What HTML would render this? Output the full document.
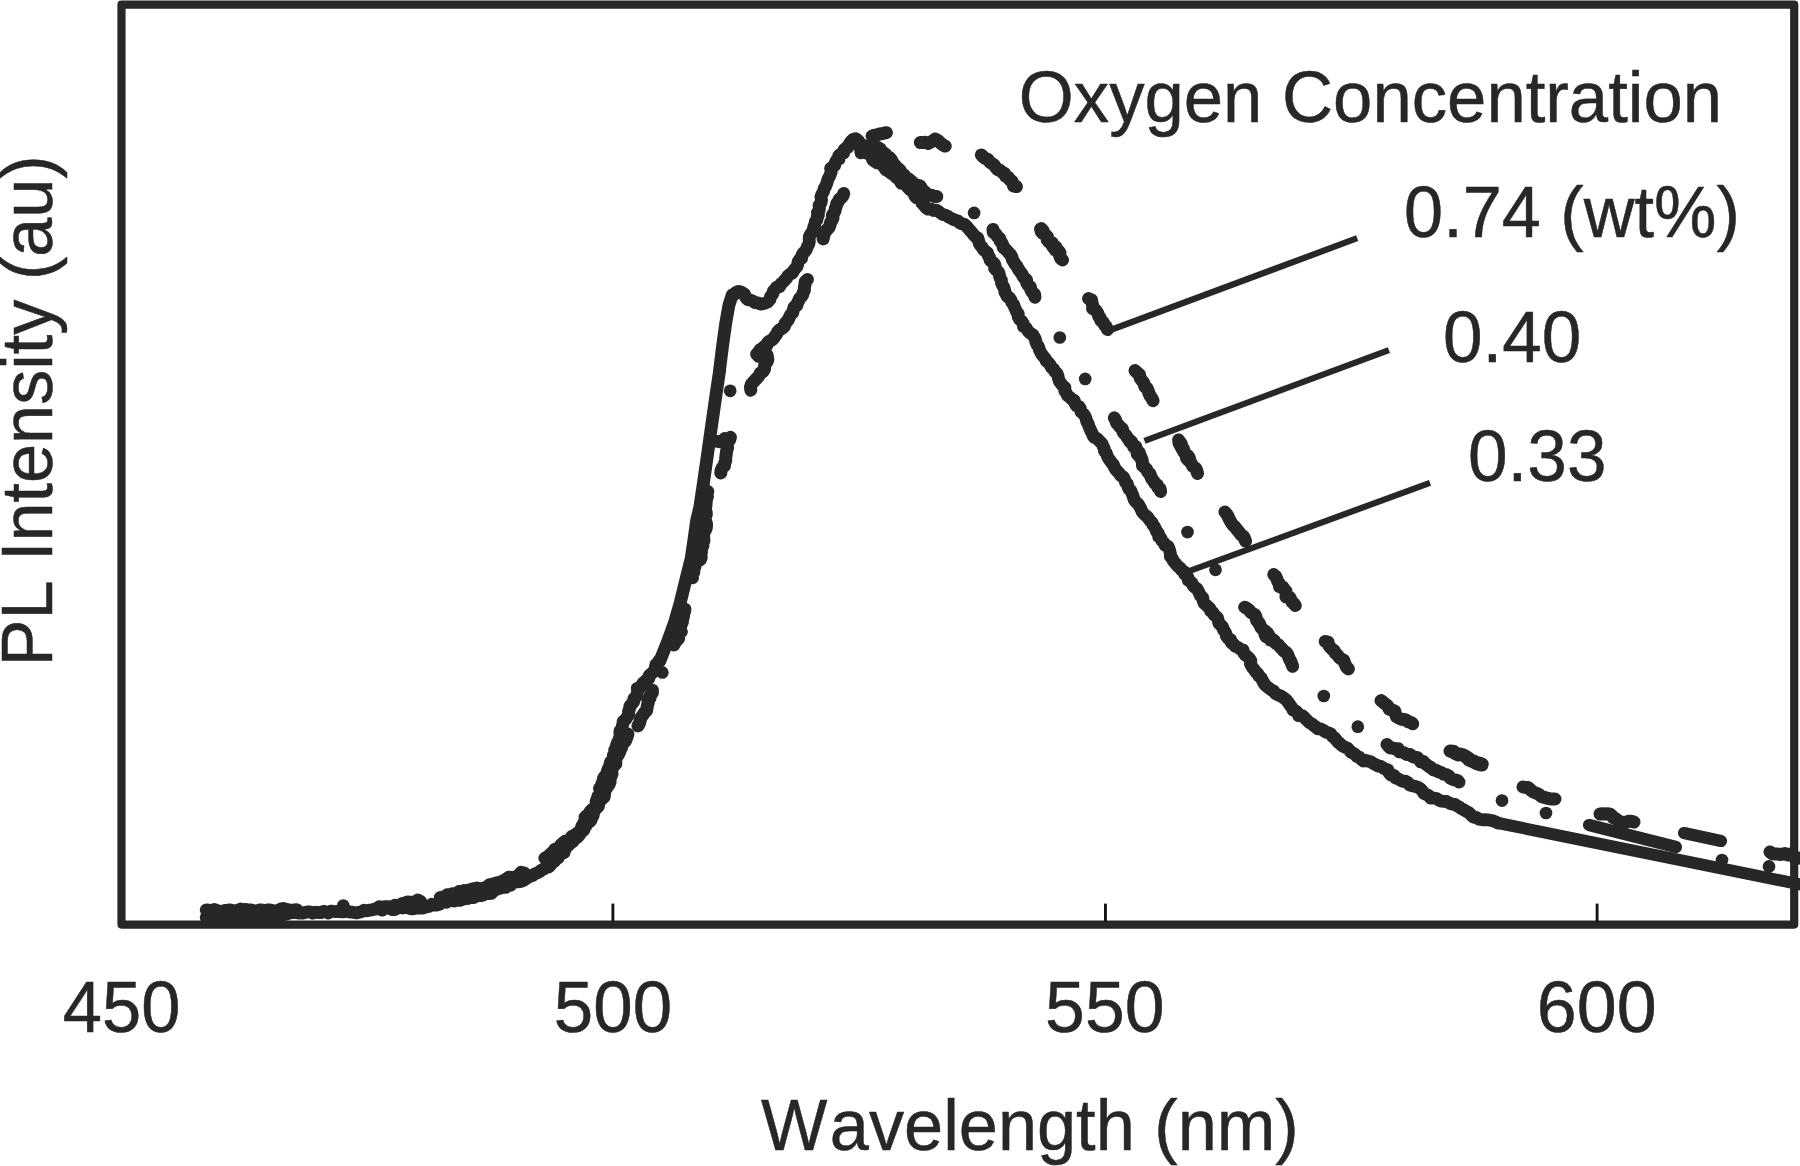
<!DOCTYPE html>
<html lang="en">
<head>
<meta charset="utf-8">
<title>PL Intensity vs Wavelength</title>
<style>
html,body{margin:0;padding:0;background:#fff;}
body{width:1800px;height:1166px;overflow:hidden;}
svg{display:block;}
</style>
</head>
<body>
<svg width="1800" height="1166" viewBox="0 0 1800 1166">
<rect x="0" y="0" width="1800" height="1166" fill="#ffffff"/>
<rect x="121.5" y="4.6" width="1672.7" height="920" fill="none" stroke="#272727" stroke-width="8.2" stroke-linejoin="round"/>
<line x1="612.90" y1="903.6" x2="612.90" y2="922" stroke="#141414" stroke-width="2.9"/>
<line x1="1105.45" y1="903.6" x2="1105.45" y2="922" stroke="#141414" stroke-width="2.9"/>
<line x1="1597.10" y1="903.6" x2="1597.10" y2="922" stroke="#141414" stroke-width="2.9"/>
<line x1="1110.5" y1="330.0" x2="1357.2" y2="238.2" stroke="#272727" stroke-width="6.2"/>
<line x1="1144.5" y1="440.8" x2="1388.9" y2="350.2" stroke="#272727" stroke-width="6.2"/>
<line x1="1186.3" y1="572.2" x2="1430.0" y2="482.8" stroke="#272727" stroke-width="6.2"/>
<g fill="none" stroke="#272727" stroke-linecap="round" stroke-linejoin="round">
<path d="M208.7 913.0 L211.3 912.8 L213.9 913.2 L216.5 912.9 L219.1 912.7 L221.7 912.2 L224.3 912.4 L226.9 913.5 L229.6 913.4 L232.2 913.8 L234.8 913.5 L237.4 913.4 L240.0 913.2 L242.6 911.9 L245.1 913.0 L247.6 913.3 L250.2 913.5 L252.8 912.0 L255.3 911.3 L257.9 911.6 L260.4 912.0 L262.9 912.8 L265.5 912.9 L268.0 913.4 L270.6 912.8 L273.1 913.2 L275.7 913.4 L278.2 912.8 L280.8 914.2 L283.3 914.0 L286.0 914.3 L288.7 913.2 L291.3 912.5 L294.0 912.5 L296.7 912.6 L299.3 913.2 L302.0 913.1 L304.7 912.6 L307.3 911.9 L310.0 911.9 L312.7 913.1 L315.3 912.2 L318.0 912.5 L320.7 912.7 L323.3 911.4 L325.9 911.9 L328.5 913.0 L331.0 911.1 L333.6 911.4 L336.1 911.6 L338.7 911.2 L341.3 911.9 L343.8 911.8 L346.4 910.7 L349.0 911.8 L351.6 912.1 L354.1 912.5 L356.7 912.9 L359.3 912.2 L361.8 911.6 L364.3 910.2 L366.9 910.8 L369.5 910.2 L372.0 909.9 L374.5 909.1 L377.1 908.8 L379.7 908.9 L382.3 910.1 L384.8 908.2 L387.3 907.6 L390.0 908.5 L392.5 909.7 L395.0 909.6 L397.5 907.8 L399.9 906.9 L402.4 908.0 L404.9 907.7 L407.3 907.2 L409.8 908.4 L412.3 908.9 L414.7 908.4 L417.2 908.2 L419.7 907.8 L422.3 908.2 L424.7 907.4 L427.1 906.8 L429.5 906.2 L431.7 904.3 L434.4 905.1 L436.9 905.0 L439.4 904.4 L441.5 902.1 L443.9 901.7 L446.6 902.3 L448.8 900.5 L451.3 900.5 L454.0 901.0 L456.2 899.4 L459.0 900.4 L461.4 899.9 L463.8 898.9 L466.2 898.5 L468.7 898.3 L471.1 897.5 L473.7 897.6 L476.0 896.1 L478.3 895.3 L481.0 895.7 L483.4 894.9 L485.7 893.6 L488.4 893.6 L491.1 893.4 L493.2 891.5 L495.3 889.6 L497.8 889.0 L500.4 888.2 L502.8 887.3 L505.7 887.4 L507.7 885.3 L510.5 885.4 L512.5 883.2 L514.9 882.1 L517.6 881.9 L520.4 881.7 L522.9 880.6 L525.3 879.2 L527.6 877.7 L530.0 876.4 L532.6 875.5 L534.8 873.9 L537.3 872.9 L539.7 871.6 L541.6 870.0 L544.0 868.9 L546.2 867.5 L548.9 866.9 L550.6 864.9 L552.3 862.7 L554.3 861.0 L556.0 859.2 L558.3 857.8 L559.5 855.5 L561.4 853.8 L564.0 852.7 L563.8 849.1 L565.4 847.1 L567.8 845.8 L569.8 843.9 L571.5 841.8 L572.7 839.3 L574.8 837.5 L576.4 835.3 L577.5 832.7 L580.6 831.6 L581.3 829.0 L581.7 826.5 L582.9 824.4 L584.0 822.2 L585.3 820.2 L585.0 817.2 L586.8 815.5 L589.3 814.2 L589.9 811.7 L591.5 809.9 L593.6 808.4 L595.2 806.6 L597.0 805.0 L596.1 801.4 L597.1 798.9 L597.9 796.3 L599.5 793.9 L600.9 791.6 L599.5 788.2 L601.9 786.2 L601.8 783.3 L603.6 781.2 L603.4 778.4 L604.9 776.2 L606.8 774.2 L607.2 771.6 L608.0 769.2 L609.3 767.0 L609.9 764.5 L610.5 762.0 L612.3 759.9 L613.3 757.6 L613.3 754.9 L615.5 752.9 L614.7 749.9 L616.2 747.7 L616.5 745.2 L617.4 742.8 L618.6 740.6 L619.3 738.3 L620.3 736.0 L619.8 733.2 L620.0 730.7 L622.0 728.7 L622.3 726.2 L622.8 723.8 L623.2 721.3 L625.8 719.3 L627.2 716.9 L628.8 714.6 L628.5 711.6 L629.5 709.0 L629.8 706.2 L631.7 704.0 L633.7 701.9 L633.7 698.9 L635.9 696.8 L637.1 694.3 L637.6 691.5 L637.3 688.3 L640.3 687.3 L641.7 685.3 L642.9 683.1 L644.9 681.6 L646.6 679.9 L648.9 678.6 L649.2 675.5 L651.3 673.8 L653.3 671.9 L654.9 669.8 L655.4 667.0 L656.0 664.3 L658.1 662.5 L659.3 660.2 L659.7 661.4 L667.9 640.8 L674.8 621.6 L680.3 602.4 L685.7 580.4 L691.2 558.4 L694.0 539.2 L696.7 520.0 L699.8 507.3 L703.9 479.8 L707.8 452.4 L711.7 424.9 L715.6 397.5 L719.7 370.0 L719.3 372.2 L722.5 346.5 L725.7 323.3 L728.9 305.3 L732.2 295.0 L734.4 294.5 L735.5 292.7 L738.4 291.3 L741.3 292.2 L744.5 294.0 L745.6 297.2 L747.5 299.6 L750.3 300.0 L752.8 301.1 L755.1 302.6 L757.8 302.8 L760.3 304.0 L763.0 303.8 L765.5 302.9 L767.7 302.0 L770.0 299.5 L770.6 296.3 L772.6 294.2 L773.3 291.2 L775.1 289.3 L776.6 287.1 L779.7 286.6 L780.9 283.9 L783.1 282.0 L785.0 279.9 L786.7 278.0 L788.0 275.8 L790.0 274.1 L792.6 272.9 L793.7 270.5 L795.3 268.5 L797.0 266.6 L797.7 264.3 L798.1 261.7 L799.4 259.7 L801.7 258.3 L801.8 255.6 L802.9 253.3 L805.1 251.4 L806.5 249.2 L807.3 246.6 L808.7 244.4 L809.3 241.8 L809.2 239.1 L809.4 236.4 L810.6 234.1 L812.6 232.1 L813.2 229.5 L813.8 227.0 L814.8 224.5 L815.3 221.9 L817.0 219.8 L817.0 217.4 L818.4 215.2 L817.4 212.6 L819.1 210.4 L819.4 208.0 L819.0 205.4 L821.0 202.8 L821.6 200.0 L820.9 196.8 L822.0 194.0 L823.6 191.4 L824.2 188.5 L825.6 186.4 L826.5 184.2 L827.2 181.9 L828.1 178.9 L829.7 176.1 L830.5 173.9 L831.3 171.5 L830.6 168.4 L832.8 166.9 L834.7 165.4 L835.2 163.0 L836.3 160.5 L839.0 159.0 L838.7 155.7 L840.8 154.0 L843.6 153.0 L843.7 150.1 L845.6 148.5 L847.9 147.3 L848.8 144.8 L850.1 142.7 L851.5 140.8 L853.1 139.3 L855.6 138.6 L857.3 139.9 L858.9 141.3 L860.0 143.1 L861.3 145.2 L862.9 147.2 L864.2 148.9 L865.0 151.3 L866.6 153.0 L869.3 154.4 L871.7 156.1 L872.5 159.7 L874.8 161.5 L877.2 162.9 L880.9 162.6 L882.5 165.3 L884.4 167.3 L885.5 169.6 L887.6 170.8 L889.7 171.9 L891.4 173.5 L894.2 173.8 L895.2 176.3 L896.9 177.9 L899.1 178.9 L900.1 181.3 L901.4 183.5 L904.5 183.8 L906.5 185.4 L908.0 187.6 L909.7 189.4 L911.8 191.0 L914.1 192.4 L914.6 195.5 L916.2 197.6 L919.1 198.6 L921.5 200.0 L922.0 203.2 L924.1 205.3 L925.9 207.7 L928.3 209.2 L931.4 209.2 L933.6 210.5 L936.5 210.2 L938.6 211.5 L940.6 213.0 L942.6 214.5 L945.1 215.0 L947.3 216.0 L949.3 217.4 L951.3 218.4 L953.4 219.5 L955.6 220.1 L957.9 221.0 L959.8 222.8 L962.0 223.8 L964.6 224.5 L966.5 226.2 L968.0 228.1 L969.6 229.9 L971.2 231.8 L972.7 233.5 L974.1 235.3 L975.7 236.9 L977.9 238.0 L978.6 240.7 L979.2 243.3 L980.5 245.4 L982.2 247.3 L983.3 249.5 L985.4 251.2 L987.5 252.8 L988.1 255.4 L989.6 257.4 L990.0 260.1 L992.0 261.8 L994.2 263.4 L995.1 265.4 L994.6 268.3 L996.1 270.0 L998.1 271.6 L999.2 273.6 L999.5 276.1 L1000.3 278.4 L1001.5 280.4 L1001.5 282.9 L1002.4 285.1 L1003.8 287.1 L1004.5 289.4 L1004.9 292.1 L1006.1 294.2 L1007.2 296.5 L1009.6 298.0 L1011.0 300.1 L1011.8 302.4 L1013.6 304.3 L1014.3 306.7 L1015.4 309.1 L1016.5 311.6 L1018.3 313.8 L1018.2 316.9 L1019.5 319.3 L1021.7 321.3 L1023.2 323.6 L1023.5 326.5 L1026.0 327.7 L1027.3 329.8 L1028.6 331.8 L1030.6 333.4 L1032.9 334.7 L1034.1 336.9 L1035.3 339.0 L1035.8 341.8 L1036.9 344.4 L1038.5 346.8 L1039.3 349.5 L1040.5 352.1 L1041.9 354.5 L1043.6 356.7 L1045.3 358.7 L1046.4 361.2 L1048.7 362.9 L1050.2 365.0 L1051.4 367.4 L1053.6 369.1 L1054.8 371.6 L1057.0 373.4 L1058.0 376.0 L1058.5 378.8 L1059.5 381.4 L1061.1 383.6 L1062.7 385.7 L1064.9 387.5 L1064.8 390.8 L1066.3 393.0 L1067.4 395.5 L1069.9 397.2 L1071.6 399.1 L1074.2 400.3 L1075.0 403.2 L1076.2 405.6 L1079.1 406.5 L1080.5 408.9 L1081.0 411.9 L1083.4 413.9 L1085.1 416.2 L1086.1 418.9 L1086.8 421.6 L1088.3 424.1 L1088.9 426.3 L1089.9 428.6 L1090.9 430.9 L1092.1 433.1 L1093.0 435.5 L1094.3 437.5 L1097.2 438.5 L1098.8 440.4 L1100.6 442.1 L1102.2 444.0 L1103.1 446.3 L1104.3 448.5 L1104.4 451.0 L1106.2 452.9 L1107.0 455.1 L1107.7 457.0 L1109.0 459.1 L1110.5 461.1 L1111.8 463.1 L1113.6 464.9 L1114.4 467.3 L1115.7 469.4 L1117.4 471.4 L1119.3 473.3 L1120.7 475.6 L1123.4 477.0 L1124.6 479.4 L1125.4 482.0 L1127.4 483.9 L1127.9 486.6 L1128.9 489.0 L1130.9 490.7 L1131.8 493.1 L1132.9 495.4 L1133.6 497.9 L1134.5 500.3 L1136.2 502.3 L1138.3 504.2 L1139.6 506.5 L1140.9 508.7 L1141.9 511.3 L1143.4 513.5 L1145.5 515.3 L1147.5 516.8 L1148.7 518.9 L1150.3 520.8 L1152.0 522.6 L1153.0 524.9 L1154.5 526.9 L1155.6 529.1 L1156.7 531.6 L1158.5 533.5 L1158.6 536.7 L1161.0 538.3 L1162.0 540.8 L1163.9 542.7 L1164.9 545.2 L1168.0 546.3 L1169.1 548.5 L1169.7 551.1 L1170.4 553.6 L1170.3 556.5 L1172.2 558.4 L1173.2 560.7 L1174.9 562.7 L1176.4 564.7 L1178.1 566.4 L1180.1 568.0 L1181.5 570.0 L1183.8 571.3 L1184.4 573.9 L1186.7 575.2 L1187.9 577.4 L1188.2 580.3 L1190.4 581.6 L1192.2 583.4 L1193.1 585.7 L1195.0 587.4 L1197.1 588.8 L1198.3 591.0 L1199.4 593.4 L1200.6 595.9 L1202.8 597.7 L1203.1 600.7 L1204.1 603.3 L1206.3 605.1 L1208.0 606.9 L1209.9 608.5 L1210.6 611.1 L1212.9 612.5 L1213.9 614.7 L1215.9 616.3 L1217.7 618.1 L1218.3 620.7 L1218.9 623.2 L1220.7 625.0 L1222.6 626.8 L1223.2 629.3 L1224.7 631.3 L1225.9 633.5 L1226.4 636.1 L1228.1 638.3 L1230.7 639.7 L1231.3 642.7 L1233.7 644.2 L1235.3 646.3 L1238.1 647.4 L1240.2 649.1 L1243.0 649.9 L1243.8 653.1 L1245.5 655.3 L1247.6 656.6 L1249.5 658.6 L1250.9 660.9 L1250.4 663.9 L1251.7 666.2 L1253.0 668.2 L1254.6 670.1 L1255.9 672.2 L1257.9 673.8 L1258.9 676.1 L1261.0 677.6 L1262.2 680.0 L1263.5 682.4 L1264.9 684.7 L1266.9 686.5 L1269.1 688.2 L1271.1 689.8 L1273.6 691.0 L1275.4 693.5 L1277.7 694.9 L1280.4 695.8 L1282.5 697.1 L1284.5 698.5 L1286.4 700.0 L1287.9 701.9 L1289.3 704.0 L1290.7 706.0 L1292.2 707.9 L1293.1 710.4 L1295.9 711.1 L1297.7 712.7 L1298.7 715.7 L1302.2 715.7 L1304.3 717.3 L1306.1 719.4 L1308.0 721.2 L1309.9 722.9 L1312.1 724.0 L1313.9 725.7 L1316.0 727.0 L1317.7 728.8 L1320.7 728.9 L1323.1 730.1 L1325.4 731.9 L1328.2 732.8 L1330.9 733.9 L1332.5 736.6 L1334.8 738.0 L1336.4 740.2 L1338.2 742.3 L1340.3 743.9 L1342.3 745.7 L1344.6 747.1 L1347.4 748.0 L1349.2 750.0 L1350.9 752.2 L1353.2 753.2 L1355.2 754.6 L1356.9 756.5 L1359.4 757.2 L1361.1 759.2 L1363.2 761.0 L1366.0 760.5 L1368.4 761.2 L1370.8 761.7 L1372.9 763.4 L1375.3 764.4 L1377.6 765.9 L1380.5 766.4 L1382.9 767.8 L1385.3 769.2 L1388.1 770.0 L1389.1 773.0 L1390.9 775.0 L1394.0 775.4 L1395.5 777.9 L1398.0 778.8 L1400.2 780.1 L1402.6 781.3 L1405.5 781.1 L1407.8 782.5 L1409.6 785.0 L1412.4 785.7 L1415.1 786.4 L1417.8 787.3 L1420.3 788.6 L1422.2 790.8 L1423.9 793.4 L1426.4 794.6 L1428.9 795.7 L1430.7 798.2 L1433.8 798.1 L1436.5 798.5 L1438.7 800.0 L1441.0 801.2 L1443.8 801.4 L1446.6 801.5 L1449.3 803.0 L1452.0 804.1 L1454.8 804.4 L1457.0 805.9 L1459.5 807.0 L1461.6 808.8 L1464.0 809.9 L1466.5 811.4 L1469.1 812.8 L1471.2 815.0 L1473.4 817.1 L1476.5 817.6 L1479.0 819.3 L1482.1 819.8 L1484.7 819.6 L1487.4 819.8 L1490.2 820.3 L1492.5 820.6 L1495.3 821.7 L1498.0 823.0" stroke-width="12.8"/>
<path d="M1498.0 823.0 L1810.0 886.4" stroke-width="12"/>
<path d="M859.2 145.7 L860.8 147.8 L860.8 150.3 L861.0 152.8 M866.8 145.7 L869.0 146.4 L871.5 145.9 L874.0 145.4 L876.2 146.7 L878.4 147.8 L880.4 149.2 L881.5 151.5 L883.6 152.8 L885.6 154.1 L886.9 156.4 L889.5 157.5 L891.1 159.4 L892.4 161.6 L893.5 164.0 L895.5 165.7 L897.1 167.7 L899.2 169.2 L900.7 171.3 L901.6 174.0 L904.4 175.0 L905.4 178.0 L908.4 178.8 L910.5 180.5 L912.6 182.4 L914.2 184.6 L917.2 185.2 L920.1 185.8 L921.5 188.4 L923.2 190.6 L925.3 192.3 L926.8 194.9 L929.8 195.1 L932.1 195.5 L934.2 196.6 L936.8 196.5 M993.0 229.4 L993.3 232.4 L996.0 234.2 L997.4 236.6 L999.9 238.4 L1000.1 240.9 L1001.7 242.6 L1002.7 244.9 L1003.3 247.5 L1005.3 249.0 L1007.1 250.9 L1008.8 252.9 L1010.6 254.9 L1011.9 257.1 L1012.5 259.8 L1013.9 262.0 L1015.2 264.3 L1017.1 266.5 L1018.4 269.3 L1020.2 271.7 L1021.8 273.7 L1022.9 276.1 L1024.5 278.1 L1026.6 279.9 L1026.7 282.8 L1028.1 285.1 L1030.3 286.8 L1030.8 289.5 L1032.1 292.1 L1034.5 294.2 L1034.9 297.2 M1114.4 417.8 L1115.6 420.2 L1116.6 422.8 L1118.3 424.9 L1120.0 427.0 L1122.4 428.7 L1122.8 431.6 L1124.3 433.6 L1126.0 435.4 L1127.2 437.5 L1128.7 439.4 L1129.9 441.6 L1131.8 443.3 L1133.3 445.2 L1135.8 446.6 L1136.5 449.0 L1136.9 451.6 L1137.3 454.2 L1139.2 455.9 L1140.6 457.9 L1141.8 460.0 M1129.7 440.0 L1131.6 441.9 L1132.9 444.4 L1133.8 447.0 L1136.1 448.6 L1137.4 451.0 L1139.3 452.7 L1140.1 455.2 L1141.2 457.6 L1142.2 460.1 L1142.4 462.9 L1142.5 465.7 L1144.9 467.6 L1146.8 469.6 L1147.8 472.1 L1150.0 474.0 L1150.8 476.6 L1152.0 479.1 L1153.8 481.2 L1154.8 483.4 L1157.3 484.8 L1157.8 487.4 L1160.1 488.8 L1160.6 491.5 M1244.7 607.2 L1247.0 608.5 L1249.1 610.0 L1250.6 612.2 L1252.8 613.6 L1255.1 614.8 L1256.1 617.5 L1256.6 620.4 L1258.6 622.4 L1260.0 624.8 L1260.9 627.5 L1262.7 629.5 L1265.2 631.0 L1264.9 634.3 L1266.0 636.6 L1269.4 637.5 L1270.4 640.0 M1258.3 622.6 L1259.8 624.9 L1261.1 627.4 L1262.8 629.5 L1265.0 631.3 L1267.4 632.9 L1268.8 635.3 L1269.8 637.9 L1272.4 639.2 L1274.5 641.0 L1275.8 643.4 L1278.4 644.7 L1279.9 646.8 L1281.9 648.6 L1283.6 650.9 L1286.1 652.2 L1287.7 654.5 L1288.6 656.9 L1289.5 659.3 L1290.9 661.5 L1291.7 663.9 L1292.6 666.3 M1387.0 744.4 L1388.6 746.3 L1390.3 748.1 L1393.1 748.1 L1395.3 749.0 L1398.2 748.8 L1399.5 751.8 L1402.3 752.1 L1404.7 753.2 L1406.9 754.6 L1409.8 754.5 L1412.0 756.2 L1414.4 757.2 L1417.2 757.4 L1418.9 759.5 L1420.5 761.7 L1423.5 761.5 L1425.1 763.7 L1427.2 765.1 L1429.2 766.6 L1431.3 767.9 L1433.5 769.8 L1436.3 770.3 L1438.6 771.9 L1441.3 772.5 L1443.6 774.1 L1446.4 774.6 L1448.8 775.9 L1450.2 778.2 L1452.4 779.2 L1454.8 779.9 L1457.3 780.3 L1459.0 782.1 M872.1 135.9 L874.5 135.2 L877.1 134.9 L879.4 134.0 L881.7 133.8 L884.0 133.2 L886.4 132.7 M920.3 142.6 L923.0 142.4 L925.6 142.3 L928.3 143.4 L930.8 142.0 L933.0 140.5 L935.2 139.0 L938.3 140.9 L940.6 143.2 L942.8 144.9 L945.2 146.1 M981.3 154.9 L983.2 156.8 L985.4 158.5 L988.1 159.6 L989.7 162.0 L991.9 163.4 L994.1 165.0 L995.7 167.2 L997.4 169.5 L1000.1 170.3 L1002.1 172.3 L1004.7 173.4 L1005.7 176.6 L1008.5 177.4 L1009.5 179.7 L1011.8 180.9 L1012.9 183.2 L1013.5 185.9 L1016.4 186.6 M1041.3 228.6 L1042.9 230.5 L1043.9 232.9 L1045.4 234.8 L1047.2 236.6 L1047.1 239.7 L1049.4 241.5 L1052.3 242.7 L1053.1 245.5 L1055.9 246.8 L1056.5 249.4 L1058.5 250.8 L1060.0 252.7 M1040.6 229.1 L1041.3 231.7 L1043.0 233.5 L1045.4 234.9 L1047.4 236.5 L1047.4 239.5 L1048.7 241.8 L1051.1 243.3 L1052.3 245.9 L1053.9 248.0 L1055.5 250.2 L1058.4 251.1 L1059.3 253.4 L1059.7 256.0 L1060.7 258.3 L1062.6 260.0 M1088.6 298.6 L1091.5 299.9 L1091.9 302.7 L1092.7 305.3 L1092.6 308.5 L1095.4 309.8 L1096.9 311.7 L1098.0 313.8 L1098.6 316.2 L1100.3 318.0 L1100.8 320.4 L1103.2 322.3 L1104.4 324.8 L1106.3 326.9 L1107.5 329.5 M1135.0 370.6 L1137.1 372.7 L1139.5 374.6 L1140.0 377.8 L1141.6 380.2 L1143.2 382.0 L1144.2 384.2 L1144.8 386.6 L1146.9 388.1 L1148.0 390.2 L1148.9 393.1 L1150.0 395.7 L1151.7 398.1 L1153.0 400.7 M1178.7 440.1 L1179.0 443.0 L1180.3 445.5 L1181.6 447.9 L1183.0 450.4 L1184.2 452.4 L1185.9 454.1 L1187.8 455.7 L1189.2 457.6 L1189.8 460.0 M1178.6 440.0 L1180.0 442.1 L1181.5 444.2 L1181.6 446.9 L1183.5 448.8 L1183.6 451.5 L1185.3 453.4 L1186.1 455.7 L1186.6 458.4 L1188.3 460.2 L1190.3 461.8 L1191.6 464.0 L1192.9 466.4 L1195.5 468.1 L1196.8 470.6 L1197.5 473.4 M1224.9 512.0 L1226.7 514.0 L1228.0 516.3 L1229.1 518.7 L1230.3 521.0 L1231.5 523.2 L1233.0 525.2 L1234.9 526.9 L1236.4 528.9 L1237.9 530.8 L1239.6 532.8 L1241.1 534.9 L1243.5 536.3 L1244.6 538.6 L1245.5 541.2 M1273.8 574.6 L1275.8 576.5 L1276.8 578.9 L1277.8 581.5 L1279.3 583.6 L1279.5 586.6 L1283.0 587.2 L1284.0 589.5 L1286.1 591.1 L1286.2 594.0 L1286.0 597.1 L1289.8 597.4 L1290.9 599.7 L1292.0 601.9 L1293.8 603.6 L1295.3 605.5 M1325.2 641.4 L1328.1 642.3 L1328.7 645.1 L1330.2 647.2 L1332.0 649.1 L1334.1 650.6 L1335.3 653.1 L1337.4 654.9 L1338.9 657.1 L1340.9 658.9 L1343.7 660.1 L1344.5 662.6 L1345.5 664.9 L1346.5 667.2 L1348.4 668.9 M1381.0 700.6 L1382.9 701.9 L1384.6 703.5 L1386.6 704.7 L1388.1 706.6 L1389.0 709.0 L1392.0 710.0 L1394.8 711.1 L1395.5 714.0 L1396.4 716.7 L1399.0 718.2 L1401.2 719.2 L1403.8 719.4 L1406.3 720.0 L1408.1 721.9 L1410.7 722.3 L1412.7 723.8 M1451.3 751.2 L1453.8 751.2 L1455.6 753.9 L1457.9 754.9 L1460.6 754.1 L1463.0 754.9 L1464.8 756.5 L1467.2 757.5 L1468.6 759.8 L1470.9 760.9 L1474.0 760.9 L1476.4 763.0 L1479.4 763.1 L1482.2 764.1 M1450.0 751.0 L1452.4 752.0 L1454.9 752.8 L1457.2 754.1 L1459.8 754.6 L1462.6 754.6 L1465.4 756.0 L1467.9 757.5 L1470.2 759.4 L1472.3 761.5 L1474.6 762.5 L1476.9 763.8 L1479.4 764.5 L1482.0 765.0 M1523.0 787.0 L1525.4 787.5 L1528.1 787.4 L1530.0 789.2 L1531.8 790.9 L1533.9 792.3 L1536.5 793.3 L1539.0 794.4 L1541.2 796.3 L1543.9 797.3 L1546.6 798.1 L1549.4 798.7 L1552.2 799.0 L1555.0 799.0 M1600.0 814.0 L1602.4 813.8 L1604.8 814.0 L1607.3 813.8 L1609.7 813.9 L1611.9 815.7 L1613.1 817.7 L1615.6 818.6 L1617.6 820.1 L1619.3 821.9 L1622.7 822.3 L1625.5 822.7 L1628.4 821.3 L1631.2 821.2 L1634.0 822.0 M1770.0 852.0 L1772.2 853.7 L1774.8 854.0 L1777.6 853.9 L1780.1 854.6 L1782.4 854.1 L1784.9 853.6 L1787.6 854.9 L1790.0 853.9 L1792.5 855.0 L1794.4 857.4 L1796.9 858.4 L1800.0 858.0 M843.7 193.5 L842.9 195.8 L841.3 197.7 L839.2 199.4 L838.3 201.6 L836.8 203.6 L836.3 206.0 L835.4 208.4 L835.0 210.9 L833.9 213.1 L832.4 215.1 L833.0 218.0 L832.0 220.2 L830.6 222.5 L830.0 225.0 L829.0 227.4 L827.2 229.5 L825.1 231.5 L824.4 233.8 L823.6 236.3 L823.1 238.9 M807.4 279.6 L805.2 281.7 L805.0 284.5 L804.4 287.2 L804.4 290.1 L803.2 292.6 L802.6 295.0 L801.1 296.9 L799.5 298.8 L798.5 301.0 L797.3 303.1 L796.9 305.5 L794.2 307.1 L793.3 309.9 L792.7 312.8 L790.6 314.7 L789.5 317.0 L788.4 319.5 L786.8 321.6 L785.0 323.6 L784.4 326.3 L782.3 328.3 L779.6 329.7 L777.8 331.8 L776.5 334.3 L774.9 336.5 L773.3 338.7 L771.4 340.3 L769.1 341.4 L767.4 343.1 L766.6 346.0 L764.1 346.8 L762.3 348.5 L760.0 349.9 L758.6 352.3 L756.7 354.2 L758.8 356.3 L761.8 355.4 L764.5 355.3 L767.2 355.4 L767.8 359.6 L767.0 362.0 L765.1 363.9 L764.5 366.2 L764.6 368.8 L762.9 371.6 L760.2 373.2 L759.0 375.7 L757.3 377.9 L755.3 379.9 L753.3 382.1 L751.4 384.3 L750.5 387.0 L750.8 390.2 M730.4 437.3 L729.7 439.8 L727.9 442.1 L727.1 444.6 L727.6 447.4 L726.9 449.9 L726.4 452.5 L726.1 455.1 L725.7 457.7 L725.7 460.5 L724.7 463.0 L724.5 465.8 L722.2 467.8 L721.1 470.3 L720.8 473.0 M717.4 441.4 L720.1 441.7 L722.6 441.0 L724.6 438.5 L727.5 439.5 L729.7 438.0 M707.8 491.5 L706.0 493.9 L707.4 496.6 L706.6 499.1 L706.2 501.6 L706.0 504.2 L705.8 506.7 L704.9 509.2 L706.1 511.9 L706.3 514.5 L704.9 516.9 M706.4 523.1 L706.5 525.5 L706.3 527.8 L705.4 530.1 M705.5 520.0 L705.1 522.6 L705.0 525.1 L705.3 527.8 L705.2 530.3 L704.0 532.8 L703.5 535.4 L703.7 538.0 L703.9 540.6 L702.4 542.8 L702.9 545.4 L702.1 547.7 L701.1 550.0 L701.4 552.6 L700.5 554.9 L701.2 557.5 L700.3 559.8 M694.5 561.2 L694.0 563.9 L694.9 566.8 L693.5 569.4 L693.8 572.3 L692.2 574.8 L692.5 577.7 M684.9 609.2 L684.5 611.8 L683.6 614.2 L683.4 616.8 L682.5 619.3 L682.4 621.9 L681.2 624.3 L680.7 626.6 L679.9 628.9 L681.2 631.7 L678.7 633.5 L678.0 635.8 L678.6 638.4 L676.7 640.6 L675.0 642.6 L673.9 644.9 M652.4 690.2 L652.4 692.9 L650.3 695.0 L650.1 697.7 L647.9 699.8 L648.3 702.6 L647.5 705.1 L647.0 707.8 L646.6 710.6 L644.4 712.7 L642.9 715.0 L641.2 717.3 L640.3 719.9 L639.5 723.1 L638.0 725.9 M627.9 734.1 L627.2 736.5 L626.3 738.8 L625.4 741.1 L623.5 742.9 L622.2 745.0 L621.6 747.5 L620.4 749.8 L619.6 752.2 L618.5 754.4 L617.1 756.6 L615.8 758.8 L615.8 761.5 L615.8 764.2 L613.3 765.9 L612.6 768.3 L611.2 770.8 L612.0 773.9 L611.1 776.4 L610.0 778.9 L610.1 781.7 L609.1 784.3 L607.4 786.6 L606.0 789.0 L604.6 791.4 L604.5 794.1 L604.1 797.0 L601.9 798.9 L599.9 800.9 L598.7 803.4 L598.4 806.3 L596.2 808.2 L594.7 810.4 L593.5 812.7 L593.1 815.4 L591.8 817.6 L590.9 820.1 M554.4 861.2 L555.7 859.0 L556.5 856.4 L558.9 855.2 L560.9 853.7 L562.5 851.8 L564.5 850.3 L565.5 847.9 L567.2 846.0 L568.7 844.0 L570.8 842.5 L573.2 841.2 L574.2 838.8 L576.8 837.7 L578.6 835.9 L580.0 833.8 L581.4 831.7 L583.6 830.3 L584.5 827.8 L585.9 825.7 L587.0 823.3 L589.2 822.0 L590.9 820.2 M544.9 858.1 L547.2 856.8 L549.4 855.3 L551.2 853.4 L553.4 851.8 L554.8 849.4 L557.6 848.8 L559.4 846.8 L561.1 844.6 L563.1 842.9 L565.2 841.2 L567.9 840.4 L570.4 839.2 L571.7 836.5 L574.1 835.3 M440.3 897.5 L442.9 897.6 L445.1 896.3 L447.3 894.7 L449.8 894.3 L452.3 893.8 L454.9 893.9 L457.2 893.2 L459.4 891.4 L462.1 891.9 L464.3 890.5 L467.0 891.3 L469.3 889.9 L471.8 889.2 L474.3 888.5 L476.8 888.0 L479.7 888.7 L482.3 888.4 L484.8 887.7 L487.3 886.9 L489.5 884.9 L492.0 884.3 L494.6 883.7 L497.0 882.8 L499.7 882.7 L502.0 881.3 L504.4 880.2 L506.7 878.9 L508.9 877.2 L511.9 877.5 L514.8 877.6 L517.1 876.4 L519.3 874.5 L521.2 872.3 L524.4 873.0 M379.2 906.8 L381.9 907.3 L384.5 906.8 L387.1 906.8 L389.8 907.0 L392.4 906.7 L394.8 905.3 L397.5 905.6 L400.1 905.3 L402.5 903.4 L405.1 903.1 L407.5 902.1 L410.2 902.3 L412.9 902.7 L415.4 901.5 L417.8 900.1 L420.6 901.5 M206.3 910.0 L209.0 910.2 L211.6 911.1 L214.3 909.5 L216.9 910.5 L219.6 911.6 L222.2 911.7 L224.9 910.5 L227.5 910.3 L230.2 910.0 L232.8 910.6 L235.5 910.9 L238.1 910.3 L240.8 909.1 L243.4 910.0 L246.1 909.5 L248.7 910.1 L251.4 910.0 L254.0 911.0 L256.7 911.0 L259.3 910.0 L262.0 910.0 L264.7 911.1 L267.3 909.9 L270.0 910.1 L272.7 910.7 L275.3 911.0 L278.0 910.6 L280.7 909.2 L283.3 908.6 L286.0 909.3 L288.7 909.8 L291.3 911.5 L294.0 909.9 L296.7 909.7 M206.3 917.5 L208.9 918.0 L211.5 916.6 L214.1 916.5 L216.7 917.2 L219.3 917.0 L221.9 917.2 L224.5 917.7 L227.1 917.0 L229.6 917.6 L232.2 917.1 L234.8 916.9 L237.4 917.6 L240.0 917.2 L242.7 917.5 L245.4 918.5 L248.0 917.9 L250.7 917.4 L253.3 917.8 L256.0 917.2 L258.7 917.9 L261.3 916.5 L264.0 917.2 L266.7 916.7 L269.3 916.2 L272.0 917.8 L274.7 916.6 L277.4 917.9 L280.0 916.7" stroke-width="13.0"/>
<path d="M1589.0 825.0 L1676.0 847.0 M1684.0 833.0 L1721.0 841.0" stroke-width="12.2"/>
</g>
<g fill="#272727">
<circle cx="974.1" cy="212.9" r="6.35"/>
<circle cx="1059.8" cy="337.5" r="6.35"/>
<circle cx="1085.2" cy="378.9" r="6.35"/>
<circle cx="1187.5" cy="532.1" r="6.35"/>
<circle cx="1215.5" cy="569.8" r="6.35"/>
<circle cx="1323.8" cy="696.0" r="6.35"/>
<circle cx="1357.8" cy="726.7" r="6.35"/>
<circle cx="1502.0" cy="800.6" r="6.35"/>
<circle cx="1546.0" cy="813.0" r="6.35"/>
<circle cx="1722.0" cy="860.0" r="6.35"/>
<circle cx="1769.0" cy="866.4" r="6.35"/>
<circle cx="730.2" cy="390.8" r="6.35"/>
<circle cx="662.3" cy="672.4" r="6.35"/>
<circle cx="343.3" cy="905.5" r="6.35"/>
</g>
<g fill="#272727" font-family="'Liberation Sans', sans-serif" font-size="73" stroke="#272727" stroke-width="0.5" stroke-linejoin="round" style="font-kerning:none">
<text id="t_oc" transform="translate(1018.84 122.00) scale(0.9684 1)">Oxygen Concentration</text>
<text id="t_074" transform="translate(1404.09 236.70) scale(0.9625 1)">0.74 (wt%)</text>
<text id="t_040" transform="translate(1442.94 361.80) scale(0.9738 1)">0.40</text>
<text id="t_033" transform="translate(1467.96 480.60) scale(0.9751 1)">0.33</text>
<text id="t_450" transform="translate(62.79 1032.20) scale(0.9662 1)">450</text>
<text id="t_500" transform="translate(553.81 1032.20) scale(0.9710 1)">500</text>
<text id="t_550" transform="translate(1045.10 1032.20) scale(0.9808 1)">550</text>
<text id="t_600" transform="translate(1536.80 1032.20) scale(0.9834 1)">600</text>
<text id="t_wl" transform="translate(761.02 1149.80) scale(0.9630 1)" dx="0 2.6">Wavelength (nm)</text>
<text id="t_pl" transform="translate(52.40 666.28) rotate(-90) scale(0.9615 1)">PL Intensity (au)</text>
</g>
</svg>
</body>
</html>
